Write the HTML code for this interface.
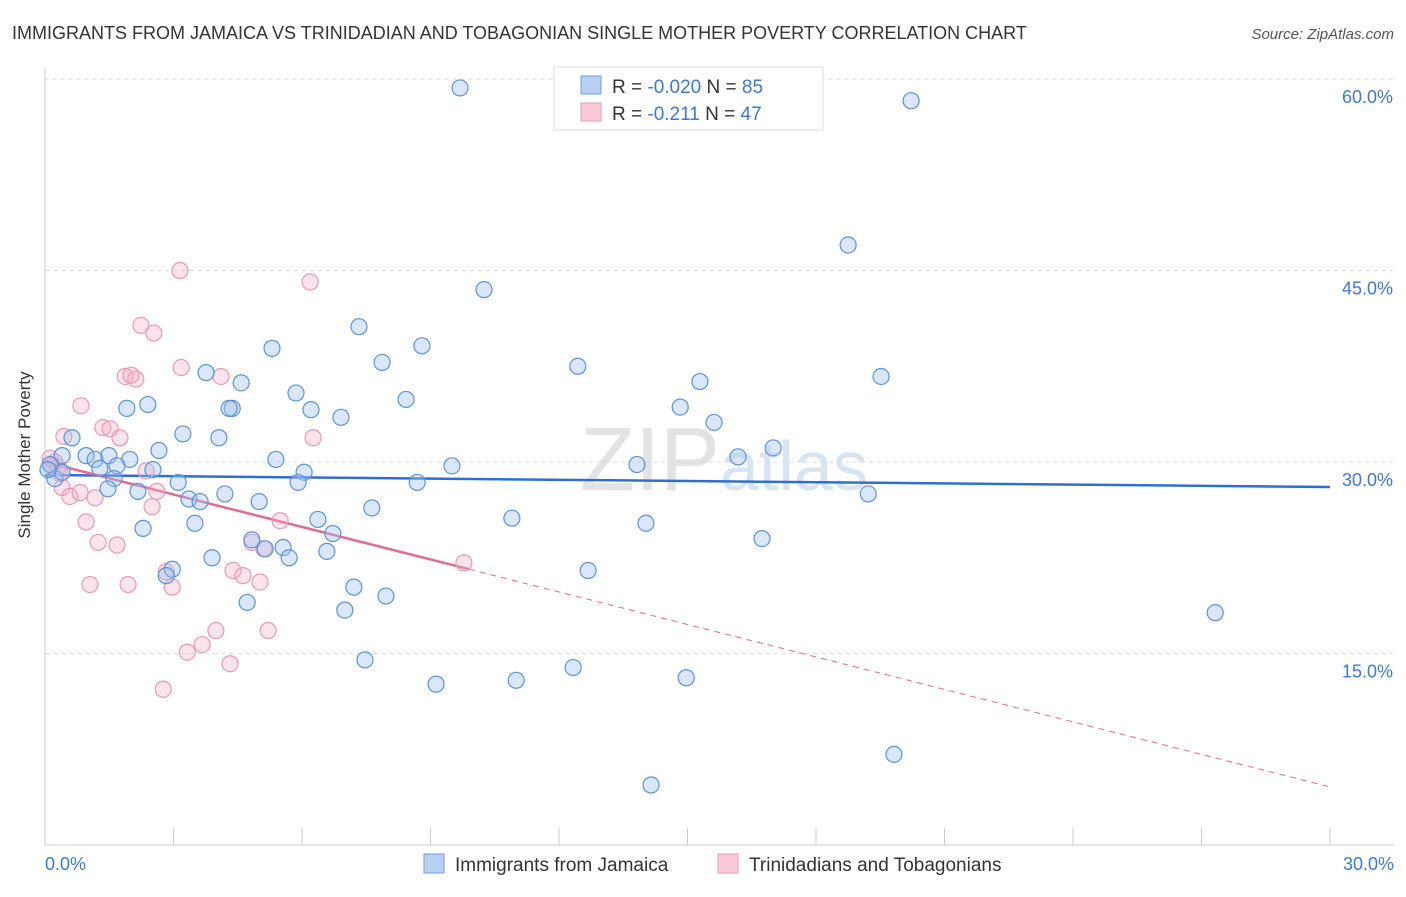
<!DOCTYPE html>
<html><head><meta charset="utf-8"><style>
body{margin:0;background:#fff;font-family:"Liberation Sans",sans-serif;}
svg text{font-family:"Liberation Sans",sans-serif;}
</style></head><body>
<svg width="1406" height="892">
<text x="12" y="39" font-size="18" fill="#333">IMMIGRANTS FROM JAMAICA VS TRINIDADIAN AND TOBAGONIAN SINGLE MOTHER POVERTY CORRELATION CHART</text>
<text x="1394" y="39" font-size="15" fill="#555" font-style="italic" text-anchor="end">Source: ZipAtlas.com</text>
<text x="720" y="490" font-size="90" fill="#e3e3e3" text-anchor="end" font-family="Liberation Serif">ZIP</text>
<text x="720" y="490" font-size="70" fill="#d7e4f3">atlas</text>
<g id="grid"></g><g id="axes"></g><g id="trend"></g><g id="pts"></g>
<text x="30" y="455" font-size="17" fill="#333" transform="rotate(-90 30 455)" text-anchor="middle">Single Mother Poverty</text>
<text x="45" y="870" font-size="18" fill="#3b78d8">0.0%</text>
<text x="1394" y="870" font-size="18" fill="#3b78d8" text-anchor="end">30.0%</text>
<g>
<rect x="554" y="67" width="269" height="63" fill="#fff" stroke="#ddd"/>
<rect x="581" y="76" width="20" height="18" fill="#b7d0f3" stroke="#6a9fe0"/>
<rect x="581" y="103" width="20" height="18" fill="#f9c9d8" stroke="#e89ab5"/>
<text x="612" y="93" font-size="19" fill="#333">R = <tspan fill="#3b78d8">-0.020</tspan>   N = <tspan fill="#3b78d8">85</tspan></text>
<text x="612" y="120" font-size="19" fill="#333">R =   <tspan fill="#3b78d8">-0.211</tspan>   N = <tspan fill="#3b78d8">47</tspan></text>
</g>
<g>
<rect x="424" y="854" width="20" height="19" fill="#b7d0f3" stroke="#6a9fe0"/>
<text x="455" y="871" font-size="19" fill="#333">Immigrants from Jamaica</text>
<rect x="718" y="854" width="20" height="19" fill="#f9c9d8" stroke="#e89ab5"/>
<text x="749" y="871" font-size="19" fill="#333">Trinidadians and Tobagonians</text>
</g>
</svg>
<script>
const blueX=[9.69,20.22,18.75,10.25,7.33,5.30,8.80,7.87,12.44,15.29,19.52,3.76,4.58,5.86,8.43,1.91,2.40,4.37,4.30,6.21,6.91,14.83,15.62,3.22,4.06,2.66,0.63,0.40,0.96,1.17,1.49,1.98,2.52,5.39,6.05,9.50,13.82,16.18,17.00,1.68,1.28,1.61,0.23,0.40,3.11,5.91,8.69,1.47,2.17,3.36,3.62,4.20,5.00,7.63,10.90,14.03,19.22,3.50,6.37,2.29,6.72,4.83,5.14,5.56,5.70,6.58,3.90,16.74,12.68,2.97,2.83,7.21,7.96,4.72,7.00,27.32,7.47,12.33,9.13,11.00,14.97,19.82,14.15,0.12,0.07];
const blueY=[59.3,58.3,47.0,43.5,40.6,38.9,39.1,37.8,37.5,36.3,36.7,37.0,36.2,35.4,34.9,34.2,34.5,34.2,34.2,34.1,33.5,34.3,33.1,32.2,31.9,30.9,31.9,30.5,30.5,30.2,30.5,30.2,29.4,30.2,29.2,29.7,29.8,30.4,31.1,29.7,29.5,28.7,28.7,29.2,28.4,28.4,28.4,27.9,27.7,27.1,26.9,27.5,26.9,26.4,25.6,25.2,27.5,25.2,25.5,24.8,24.4,23.9,23.2,23.3,22.5,23.0,22.5,24.0,21.5,21.6,21.1,20.2,19.5,19.0,18.4,18.2,14.5,13.9,12.6,12.9,13.1,7.1,4.7,29.8,29.4];
const pinkX=[3.15,6.19,2.24,2.54,3.18,4.11,1.87,2.12,2.01,0.84,0.44,1.35,1.52,1.75,6.26,0.23,0.12,0.30,2.36,0.40,0.58,0.82,1.17,2.61,2.50,0.96,5.49,1.24,1.68,4.83,5.11,4.39,4.62,5.02,2.83,2.97,1.05,1.94,9.78,3.99,5.21,3.67,3.32,4.32,2.76,0.16,0.35];
const pinkY=[45.0,44.1,40.7,40.1,37.4,36.7,36.7,36.5,36.8,34.4,32.0,32.7,32.6,31.9,31.9,30.0,30.3,29.6,29.3,28.0,27.3,27.6,27.2,27.7,26.5,25.3,25.4,23.7,23.5,23.7,23.2,21.5,21.1,20.6,21.4,20.2,20.4,20.4,22.1,16.8,16.8,15.7,15.1,14.2,12.2,29.7,29.1];
const yTicks=[15,30,45,60];
const xTicks=[0,3,6,9,12,15,18,21,24,27,30];
const blueTrend=[28.98,28.04];
const pinkTrend=[30.0,4.55];
const pinkSolidEnd=9.9;
const sx=v=>45+v*1285/30, sy=v=>462-(v-30)*191.5/15;
const NS="http://www.w3.org/2000/svg";
function mk(p,t,a){const e=document.createElementNS(NS,t);for(const k in a)e.setAttribute(k,a[k]);document.getElementById(p).appendChild(e);return e;}
yTicks.forEach(t=>{
 const l=mk('grid','line',{x1:45,x2:1394,y1:sy(t),y2:sy(t),stroke:'#ddd','stroke-dasharray':'4,4'});
 
 
 const tx=mk('grid','text',{x:1393,y:sy(t)+24,'font-size':18,fill:'#3b78d8','text-anchor':'end'});
 tx.textContent=t.toFixed(1)+'%';
 
 
});
const ax=mk('axes','line',{x1:45,x2:45,y1:68,y2:845,stroke:'#ccc'});


const bx=mk('axes','line',{x1:45,x2:1394,y1:845,y2:845,stroke:'#ccc'});


xTicks.forEach(t=>{const l=mk('axes','line',{x1:sx(t),x2:sx(t),y1:828,y2:845,stroke:'#ccc'});
 
 });
const bt=mk('trend','line',{x1:sx(0),y1:sy(blueTrend[0]),x2:sx(30),y2:sy(blueTrend[1]),stroke:'#2f6fd1','stroke-width':2.5});


const pv=x=>pinkTrend[0]+(pinkTrend[1]-pinkTrend[0])*x/30;
const pt=mk('trend','line',{x1:sx(0),y1:sy(pv(0)),x2:sx(pinkSolidEnd),y2:sy(pv(pinkSolidEnd)),stroke:'#e06b93','stroke-width':2.5});


const pd=mk('trend','line',{x1:sx(pinkSolidEnd),y1:sy(pv(pinkSolidEnd)),x2:sx(30),y2:sy(pv(30)),stroke:'#e06b93','stroke-width':1,'stroke-dasharray':'6,5'});


pinkX.forEach((x,i)=>{const c=mk('pts','circle',{cx:sx(x),cy:sy(pinkY[i]),r:8,fill:'rgba(245,175,200,0.35)',stroke:'#e89ab5','stroke-width':1.2});
 
 });
blueX.forEach((x,i)=>{const c=mk('pts','circle',{cx:sx(x),cy:sy(blueY[i]),r:8,fill:'rgba(160,195,240,0.4)',stroke:'#5b93dc','stroke-width':1.2});
 
 });
</script>
</body></html>
